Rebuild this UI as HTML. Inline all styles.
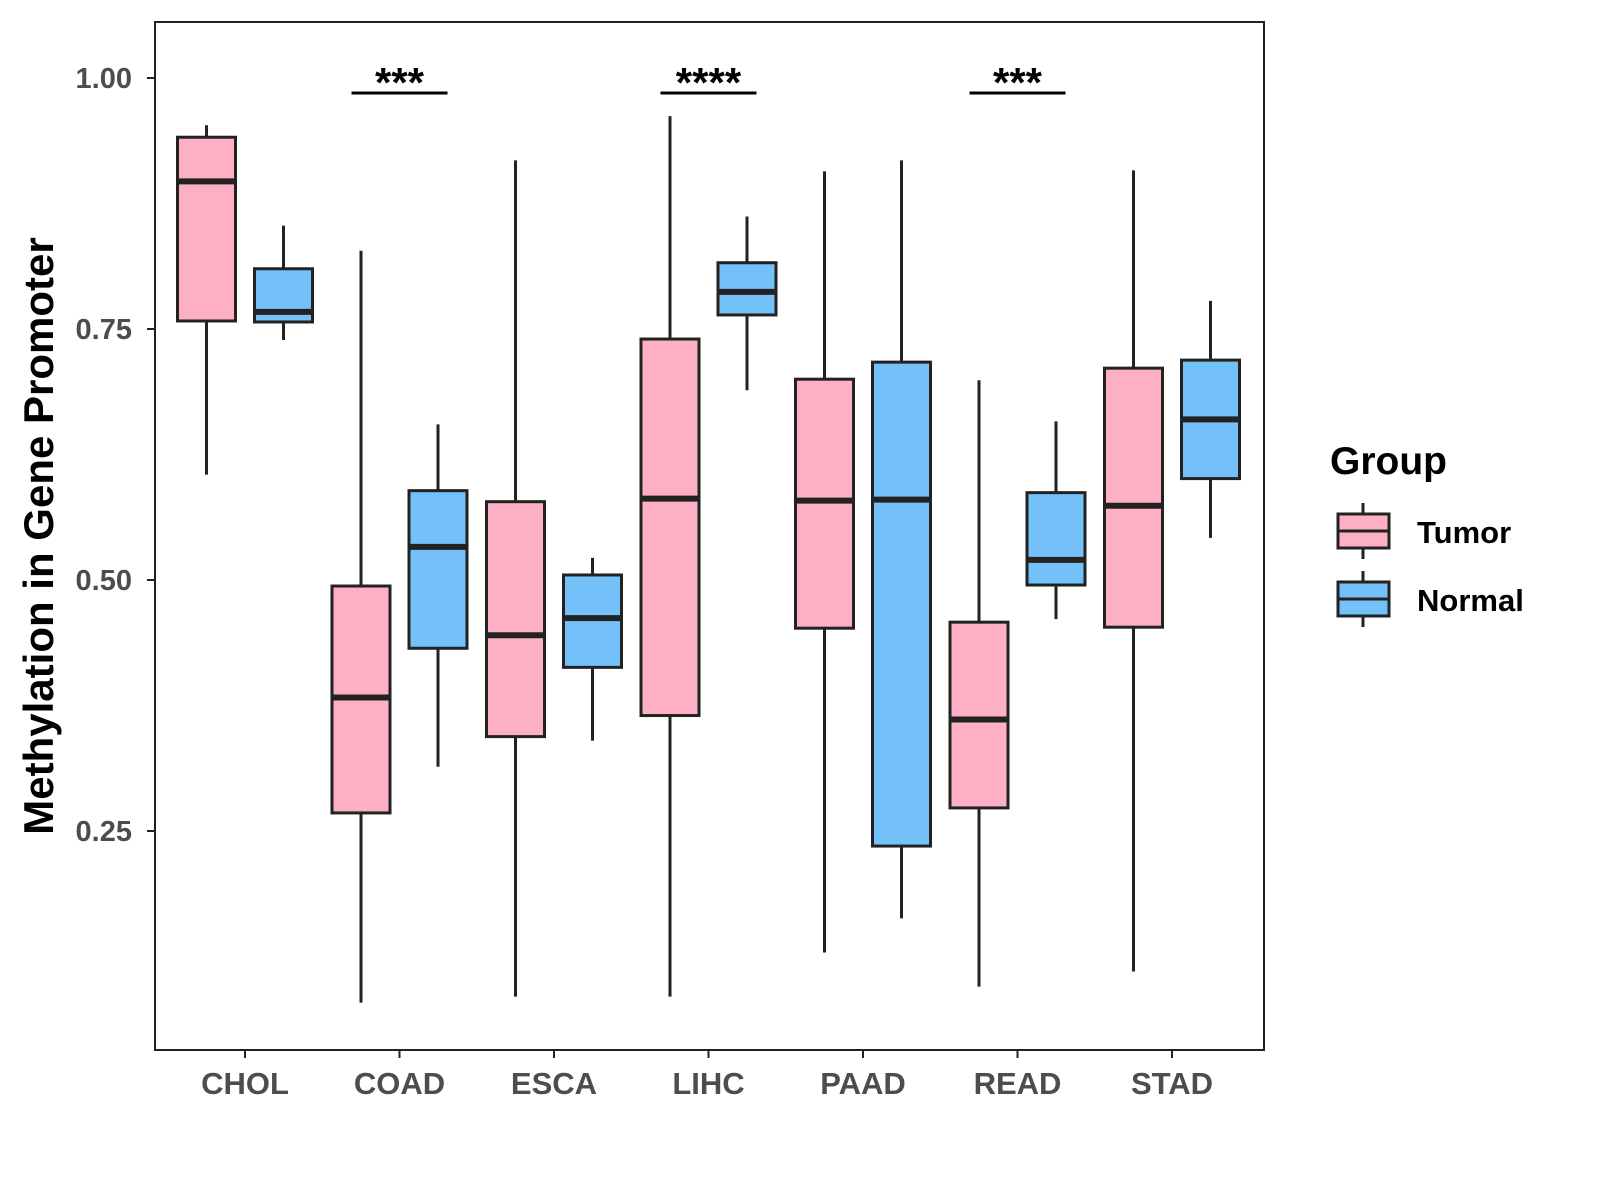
<!DOCTYPE html>
<html><head><meta charset="utf-8"><style>
body{margin:0;background:#fff;}
svg{display:block;font-family:"Liberation Sans",Arial,sans-serif;}
</style></head><body>
<svg id="chart" width="1600" height="1200" viewBox="0 0 1600 1200">
<rect x="155" y="22" width="1109" height="1028" fill="#fff" stroke="#222" stroke-width="2"/>
<g id="marks"></g>
<g id="axes"></g>
<text x="0" y="0" transform="translate(53,536) rotate(-90)" text-anchor="middle" font-size="42" font-weight="bold" fill="#000">Methylation in Gene Promoter</text>
<g>
<text x="1330" y="474" font-size="39" font-weight="bold" fill="#000">Group</text>
<g>
<line x1="1363" y1="503" x2="1363" y2="559" stroke="#222" stroke-width="3"/>
<rect x="1338" y="514" width="51" height="34" fill="#FDB0C3" stroke="#222" stroke-width="3"/>
<line x1="1338" y1="531" x2="1389" y2="531" stroke="#222" stroke-width="3"/>
<text x="1417" y="543" font-size="31" font-weight="bold" fill="#000">Tumor</text>
</g>
<g>
<line x1="1363" y1="571" x2="1363" y2="627" stroke="#222" stroke-width="3"/>
<rect x="1338" y="582" width="51" height="34" fill="#74C0F8" stroke="#222" stroke-width="3"/>
<line x1="1338" y1="599" x2="1389" y2="599" stroke="#222" stroke-width="3"/>
<text x="1417" y="611" font-size="31" font-weight="bold" fill="#000">Normal</text>
</g>
</g>
</svg>
<script>
const categories=["CHOL","COAD","ESCA","LIHC","PAAD","READ","STAD"];
// [low, q1, median, q3, high]
const tumorStats=[[0.605,0.758,0.897,0.941,0.953],[0.079,0.268,0.383,0.494,0.828],[0.085,0.344,0.445,0.578,0.918],[0.085,0.365,0.581,0.740,0.962],[0.129,0.452,0.579,0.700,0.907],[0.095,0.273,0.361,0.458,0.699],[0.110,0.453,0.574,0.711,0.908]];
const normalStats=[[0.739,0.757,0.767,0.810,0.853],[0.314,0.432,0.533,0.589,0.655],[0.340,0.413,0.462,0.505,0.522],[0.689,0.764,0.787,0.816,0.862],[0.163,0.235,0.580,0.717,0.918],[0.461,0.495,0.520,0.587,0.658],[0.542,0.601,0.660,0.719,0.778]];
const yTicks=[0.25,0.50,0.75,1.00];
const yTickLabels=["0.25","0.50","0.75","1.00"];
const sigCategories=["COAD","LIHC","READ"];
const sigLabels=["***","****","***"];
const sigLevel=0.987;

const NS="http://www.w3.org/2000/svg";
function y(v){return 78+(1-v)*1004;}
function x(i){return 245+i*154.5;}
function mk(tag,attrs,parent){const e=document.createElementNS(NS,tag);for(const k in attrs)e.setAttribute(k,attrs[k]);parent.appendChild(e);return e;}
const marks=document.getElementById('marks'),axes=document.getElementById('axes');
function drawBox(s,cx,fill,name){
  const g=mk('g',{},marks);
  
  
  mk('line',{x1:cx,x2:cx,y1:y(s[4]),y2:y(s[0]),stroke:'#222','stroke-width':3},g);
  mk('rect',{x:cx-29,y:y(s[3]),width:58,height:y(s[1])-y(s[3]),fill:fill,stroke:'#222','stroke-width':3},g);
  mk('line',{x1:cx-29,x2:cx+29,y1:y(s[2]),y2:y(s[2]),stroke:'#222','stroke-width':6},g);
}
categories.forEach((c,i)=>{
  drawBox(tumorStats[i],x(i)-38.5,'#FDB0C3','box-tumor-'+c.toLowerCase());
  drawBox(normalStats[i],x(i)+38.5,'#74C0F8','box-normal-'+c.toLowerCase());
  const t=mk('line',{x1:x(i),x2:x(i),y1:1050,y2:1058,stroke:'#222','stroke-width':2},axes);
  
  
  const l=mk('text',{x:x(i),y:1094,'text-anchor':'middle','font-size':31,'font-weight':'bold',fill:'#4d4d4d'},axes);
  l.textContent=c;
  
  
});
yTicks.forEach((v,i)=>{
  const t=mk('line',{x1:147,x2:155,y1:y(v),y2:y(v),stroke:'#222','stroke-width':2},axes);
  
  
  const l=mk('text',{x:132,y:y(v)+10,'text-anchor':'end','font-size':29,'font-weight':'bold',fill:'#4d4d4d'},axes);
  l.textContent=yTickLabels[i];
  
  
});
sigCategories.forEach((c,j)=>{
  const i=categories.indexOf(c);
  const ln=mk('line',{x1:x(i)-48,x2:x(i)+48,y1:y(sigLevel)+2,y2:y(sigLevel)+2,stroke:'#000','stroke-width':3},marks);
  
  
  const t=mk('text',{x:x(i),y:y(sigLevel)+6,'text-anchor':'middle','font-size':42,'font-weight':'bold',fill:'#000'},marks);
  t.textContent=sigLabels[j];
  
  
});
</script>
</body></html>
